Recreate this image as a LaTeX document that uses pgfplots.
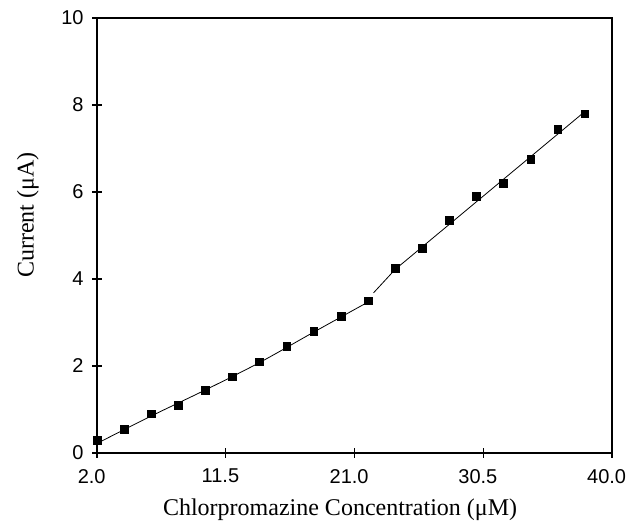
\documentclass[border=0pt]{standalone}
\usepackage{fontspec}
\setmainfont{Liberation Serif}
\setsansfont{Liberation Sans}
\usepackage{pgfplots}
\pgfplotsset{compat=1.18}
\begin{document}
\begin{tikzpicture}[x=0.75pt,y=0.75pt]
\path[use as bounding box] (-97,-75) rectangle (532,453);
\begin{axis}[
  at={(0,0)}, anchor=south west,
  scale only axis, width=386.25pt, height=326.25pt,
  xmin=2, xmax=40, ymin=0, ymax=10,
  xtick={2,11.5,21,30.5,40},
  xticklabels={2.0,11.5,21.0,30.5,40.0},
  ytick={0,2,4,6,8,10},
  xtick pos=bottom, ytick pos=left,
  tick align=center,
  major tick length=7pt,
  tick style={black, line width=0.9pt},
  axis line style={line width=1pt},
  /pgf/number format/assume math mode=true,
  ticklabel style={font=\sffamily\fontsize{15}{15}\selectfont},
  xticklabel style={yshift=-5pt, xshift=-4pt},
  yticklabel style={xshift=-3pt},
  xlabel={Chlorpromazine Concentration (μM)},
  ylabel={Current (μA)},
  label style={font=\rmfamily\fontsize{18}{18}\selectfont},
  xlabel style={at={(axis description cs:0.472,-0.131)}, anchor=center},
  ylabel style={at={(axis description cs:-0.134,0.547)}, anchor=center, rotate=0},
  clip=false,
]
\addplot[black, line width=0.6pt, smooth, tension=0.5] coordinates {
(2,0.22) (6,0.85) (10,1.45) (14,2.08) (18,2.78) (22,3.47)
};
\addplot[black, line width=0.6pt] coordinates {
(22.4,3.68) (24,4.22) (38,7.85)
};
\addplot[only marks, black, mark=square*, mark size=2.9pt] coordinates {
(2,0.3) (4,0.55) (6,0.9) (8,1.1) (10,1.45) (12,1.75) (14,2.1) (16,2.45) (18,2.8) (20,3.15)
(22,3.5) (24,4.25) (26,4.7) (28,5.35) (30,5.9) (32,6.2) (34,6.75) (36,7.45) (38,7.8)
};
\end{axis}
\end{tikzpicture}
\end{document}
